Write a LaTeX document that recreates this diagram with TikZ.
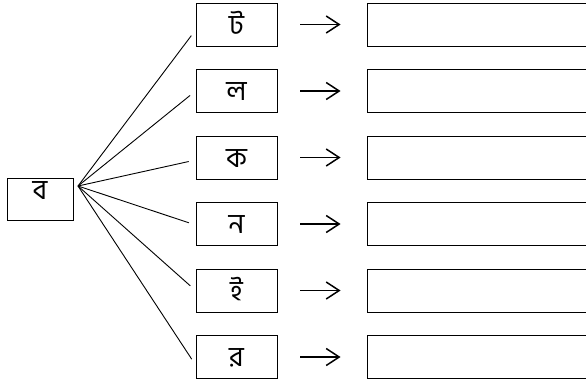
\documentclass[tikz,border=0pt]{standalone}
\usepackage{fontspec}
\newfontfamily\bangla[Script=Bengali]{Hind Siliguri}
\usetikzlibrary{arrows.meta}

\begin{document}
\begin{tikzpicture}[x=1pt, y=-1pt, line width=0.9pt]
    \tikzstyle{letter} = [draw, inner sep=0pt, font=\bangla\fontsize{28}{32}\selectfont]
    \tikzstyle{answer} = [draw, minimum width=240pt, minimum height=43pt, inner sep=0pt]
    \tikzstyle{branch} = [shorten >=7pt]
    \tikzstyle{maps} = [-{Straight Barb[length=13pt, width=17pt, line width=1.5pt]}, line width=1.3pt, shorten <=23pt, shorten >=26pt]
    \useasboundingbox (0, 0) rectangle (586, 381);
    \clip (0, 0) rectangle (586, 381);
    % root
    \node[letter, minimum width=66pt, text height=21pt, text depth=21pt] (b) at (40, 199) {ব};
    \coordinate (fan) at (78, 186);
    % middle column
    \tikzstyle{mid} = [letter, minimum width=81pt, text height=31pt, text depth=12pt]
    \node[mid] (m1) at (236.5, 24.5) {ট};
    \node[mid] (m2) at (236.5, 91) {ল};
    \node[mid] (m3) at (236.5, 157.5) {ক};
    \node[mid] (m4) at (236.5, 224) {ন};
    \node[mid] (m5) at (236.5, 290.5) {ই};
    \node[mid] (m6) at (236.5, 357) {র};
    % empty boxes on the right
    \node[answer] (r1) at (487, 24.5) {};
    \node[answer] (r2) at (487, 91) {};
    \node[answer] (r3) at (487, 157.5) {};
    \node[answer] (r4) at (487, 224) {};
    \node[answer] (r5) at (487, 290.5) {};
    \node[answer] (r6) at (487, 357) {};
    % fan
    \draw[branch] (fan) -- ([yshift=-5.5pt]m1.west);
    \draw[branch] (fan) -- (m2.west);
    \draw[branch] (fan) -- ([yshift=-2.5pt]m3.west);
    \draw[branch] (fan) -- ([yshift=-1pt]m4.west);
    \draw[branch] (fan) -- (m5.west);
    \draw[branch] (fan) -- ([yshift=-8pt]m6.west);
    % arrows
    \draw[maps] (m1.east) -- (r1.west);
    \draw[maps] (m2.east) -- (r2.west);
    \draw[maps] (m3.east) -- (r3.west);
    \draw[maps] (m4.east) -- (r4.west);
    \draw[maps] (m5.east) -- (r5.west);
    \draw[maps] (m6.east) -- (r6.west);
\end{tikzpicture}
\end{document}
